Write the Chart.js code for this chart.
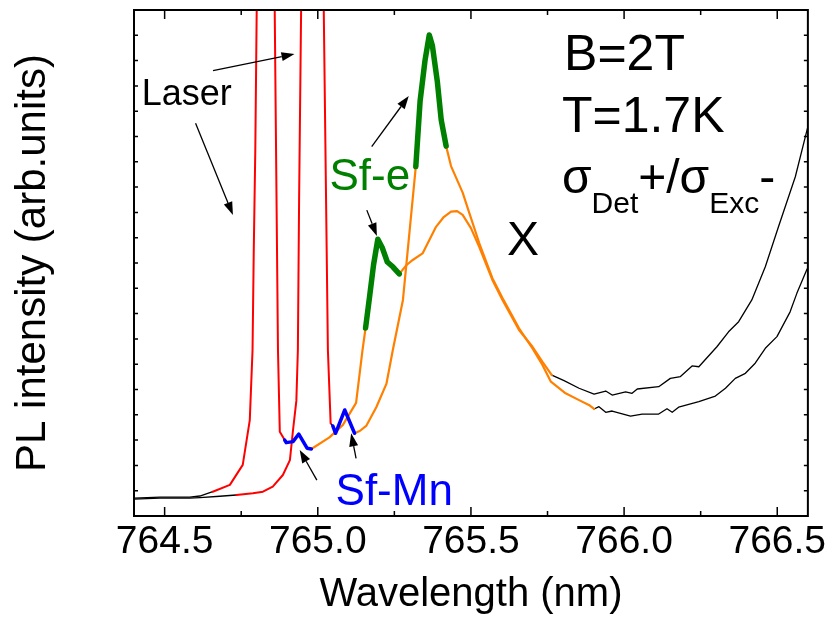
<!DOCTYPE html>
<html>
<head>
<meta charset="utf-8">
<script src="https://cdn.jsdelivr.net/npm/chart.js@4.4.0/dist/chart.umd.min.js"></script>
<style>
  html, body { margin: 0; padding: 0; background: #fff; }
</style>
</head>
<body>
<canvas id="chart" width="830" height="617"></canvas>
<script>
// x axis ticks (nm)
const xTicks = [764.5, 765.0, 765.5, 766.0, 766.5];
const xMinorTicks = [764.75, 765.25, 765.75, 766.25];
const yTicks = [1, 2, 3, 4, 5, 6, 7, 8, 9, 10, 11, 12, 13, 14, 15, 16, 17, 18, 19];

// spectrum 1 (laser at ~764.8 nm, broad X peak)
const wl1 = [764.400, 764.485, 764.582, 764.615, 764.657, 764.713, 764.755, 764.778, 764.787, 764.791,
  764.796, 764.801, 764.830, 764.859, 764.870, 764.876, 764.892, 764.897, 764.919, 764.938,
  764.965, 764.979, 765.038, 765.082, 765.125, 765.146, 765.156, 765.169, 765.182, 765.196,
  765.211, 765.227, 765.245, 765.266, 765.290, 765.310, 765.342, 765.386, 765.410, 765.435,
  765.455, 765.473, 765.500, 765.527, 765.570, 765.603, 765.657, 765.701, 765.733, 765.764,
  765.804, 765.853, 765.902, 765.940, 765.961, 766.005, 766.026, 766.043, 766.113, 766.151,
  766.184, 766.222, 766.244, 766.303, 766.341, 766.374, 766.417, 766.461, 766.504, 766.559,
  766.599, 766.620];
const pl1 = [0.71, 0.75, 0.75, 0.79, 0.96, 1.23, 2.02, 3.79, 6.56, 10.51,
  14.47, 20.5, 60, 20.5, 6.56, 3.33, 3.00, 2.90, 2.94, 3.24,
  2.68, 2.65, 3.11, 3.60, 4.47, 6.56, 7.43, 8.66, 9.92, 10.94,
  10.59, 10.04, 9.85, 9.57, 9.92, 10.12, 10.38, 11.43, 11.80, 12.03,
  12.05, 11.90, 11.38, 10.64, 9.33, 8.54, 7.35, 6.69, 6.10, 5.57,
  5.35, 5.05, 4.82, 4.94, 4.78, 4.91, 4.85, 5.02, 5.11, 5.44,
  5.51, 5.93, 5.90, 6.69, 7.28, 7.68, 8.54, 9.85, 11.43, 13.41,
  15.34, 16.2];

// spectrum 2 (laser at ~764.98 nm, sharp Sf-e peak)
const wl2 = [764.400, 764.485, 764.582, 764.615, 764.680, 764.734, 764.788, 764.821, 764.853, 764.886,
  764.909, 764.919, 764.930, 764.935, 764.939, 764.946, 764.983, 765.019, 765.033, 765.042,
  765.049, 765.058, 765.088, 765.120, 765.137, 765.158, 765.191, 765.224, 765.245, 765.278,
  765.300, 765.320, 765.334, 765.350, 765.364, 765.374, 765.390, 765.403, 765.419, 765.435,
  765.473, 765.494, 765.527, 765.570, 765.603, 765.657, 765.701, 765.733, 765.761, 765.809,
  765.853, 765.885, 765.902, 765.918, 765.940, 765.961, 766.021, 766.059, 766.113, 766.140,
  766.157, 766.178, 766.244, 766.298, 766.331, 766.363, 766.396, 766.428, 766.461, 766.499,
  766.542, 766.564, 766.596, 766.620];
const pl2 = [0.67, 0.71, 0.71, 0.73, 0.78, 0.83, 0.90, 0.96, 1.16, 1.62,
  2.21, 3.38, 4.55, 6.56, 12.5, 20.5, 60, 20.5, 6.56, 3.66,
  3.56, 3.27, 4.19, 3.27, 3.36, 3.56, 4.30, 5.22, 6.56, 8.54,
  11.3, 13.81, 16.40, 18.0, 19.01, 18.6, 17.2, 15.65, 14.62, 13.83,
  12.78, 12.00, 10.79, 9.40, 8.62, 7.42, 6.62, 5.98, 5.31, 4.85,
  4.58, 4.39, 4.23, 4.32, 4.10, 4.15, 3.95, 4.03, 4.03, 4.24,
  4.10, 4.30, 4.52, 4.74, 5.05, 5.44, 5.64, 6.04, 6.63, 7.09,
  8.07, 8.80, 9.72, 10.3];

// colour pieces: [first index, last index, kind]
const pieces1 = [[0, 4, 'base'], [4, 16, 'laser'], [16, 21, 'mn'], [21, 26, 'pl'], [26, 33, 'sfe'], [33, 49, 'pl'], [49, 71, 'base']];
const pieces2 = [[0, 5, 'base'], [5, 19, 'laser'], [19, 20, 'base'], [20, 23, 'mn'], [23, 31, 'pl'], [31, 38, 'sfe'], [38, 52, 'pl'], [52, 73, 'base']];

const styles = {
  base:  { color: '#000000', width: 1.3, order: 2 },
  laser: { color: '#ff0000', width: 2,   order: 1 },
  pl:    { color: '#ff8000', width: 2.2, order: 1 },
  mn:    { color: '#0000ff', width: 3.5, order: 0 },
  sfe:   { color: '#008000', width: 5.5, order: 0 }
};

const FONT = "'Liberation Sans', Arial, sans-serif";

function makePieces(wl, pl, pieces) {
  return pieces.map(([a, b, kind]) => {
    const st = styles[kind];
    const data = [];
    for (let i = a; i <= b; i++) data.push({ x: wl[i], y: pl[i] });
    return {
      data,
      borderColor: st.color,
      borderWidth: st.width,
      order: st.order,
      pointRadius: 0,
      tension: 0,
      fill: false,
      clip: 0,
      borderJoinStyle: 'round',
      borderCapStyle: 'round'
    };
  });
}

// annotations in data units
const notes = [
  { text: 'Laser', x: 764.425, y: 16.25, size: 36, color: '#000' },
  { text: 'Sf-e', x: 765.038, y: 12.89, size: 44, color: '#008000' },
  { text: 'Sf-Mn', x: 765.058, y: 0.43, size: 44, color: '#0000ff' },
  { text: 'B=2T', x: 765.804, y: 17.63, size: 50, color: '#000' },
  { text: 'T=1.7K', x: 765.797, y: 15.18, size: 50, color: '#000' },
  { text: 'X', x: 765.618, y: 10.32, size: 48, color: '#000' }
];
const arrows = [
  [764.658, 17.60, 764.924, 18.26],
  [764.601, 15.52, 764.723, 11.90],
  [765.176, 14.60, 765.297, 16.60],
  [765.160, 12.09, 765.193, 11.07],
  [764.997, 1.42, 764.941, 2.61],
  [765.125, 2.28, 765.109, 3.27]
];

function arrow(ctx, x0, y0, x1, y1) {
  const ang = Math.atan2(y1 - y0, x1 - x0);
  const hl = 13, hw = 4.5;
  const bx = x1 - hl * Math.cos(ang), by = y1 - hl * Math.sin(ang);
  ctx.beginPath();
  ctx.moveTo(x0, y0);
  ctx.lineTo(bx, by);
  ctx.stroke();
  ctx.beginPath();
  ctx.moveTo(x1, y1);
  ctx.lineTo(bx + hw * Math.sin(ang), by - hw * Math.cos(ang));
  ctx.lineTo(bx - hw * Math.sin(ang), by + hw * Math.cos(ang));
  ctx.closePath();
  ctx.fill();
}

const framePlugin = {
  id: 'frame',
  afterDatasetsDraw(chart) {
    const { ctx, chartArea: a, scales: { x, y } } = chart;
    ctx.save();
    ctx.strokeStyle = '#000';
    ctx.fillStyle = '#000';
    ctx.lineWidth = 2;
    ctx.strokeRect(a.left, a.top, a.right - a.left, a.bottom - a.top);
    ctx.lineWidth = 1.5;
    ctx.beginPath();
    xTicks.forEach(v => {
      const px = x.getPixelForValue(v);
      ctx.moveTo(px, a.bottom); ctx.lineTo(px, a.bottom - 9);
      ctx.moveTo(px, a.top); ctx.lineTo(px, a.top + 9);
    });
    xMinorTicks.forEach(v => {
      const px = x.getPixelForValue(v);
      ctx.moveTo(px, a.bottom); ctx.lineTo(px, a.bottom - 5);
      ctx.moveTo(px, a.top); ctx.lineTo(px, a.top + 5);
    });
    yTicks.forEach(v => {
      const py = y.getPixelForValue(v);
      ctx.moveTo(a.left, py); ctx.lineTo(a.left + 4, py);
      ctx.moveTo(a.right, py); ctx.lineTo(a.right - 4, py);
    });
    ctx.stroke();

    // arrows
    ctx.lineWidth = 1.3;
    arrows.forEach(([l0, i0, l1, i1]) => {
      arrow(ctx, x.getPixelForValue(l0), y.getPixelForValue(i0), x.getPixelForValue(l1), y.getPixelForValue(i1));
    });

    // labels
    ctx.textBaseline = 'alphabetic';
    ctx.textAlign = 'left';
    notes.forEach(n => {
      ctx.font = n.size + 'px ' + FONT;
      ctx.fillStyle = n.color;
      ctx.fillText(n.text, x.getPixelForValue(n.x), y.getPixelForValue(n.y));
    });

    // sigma_Det + / sigma_Exc -
    let px = x.getPixelForValue(765.797);
    const base = y.getPixelForValue(12.77);
    ctx.fillStyle = '#000';
    const parts = [['σ', 48, 0], ['Det', 30, 20], ['+/σ', 48, 0], ['Exc', 30, 20], ['-', 48, 0]];
    parts.forEach(([t, s, dy]) => {
      ctx.font = s + 'px ' + FONT;
      ctx.fillText(t, px, base + dy);
      px += ctx.measureText(t).width;
    });
    ctx.restore();
  }
};

new Chart(document.getElementById('chart'), {
  type: 'line',
  data: {
    datasets: [...makePieces(wl1, pl1, pieces1), ...makePieces(wl2, pl2, pieces2)]
  },
  options: {
    responsive: false,
    animation: false,
    devicePixelRatio: 1,
    layout: { padding: { top: 10, right: 21, left: 0, bottom: 0 } },
    plugins: { legend: { display: false }, tooltip: { enabled: false } },
    scales: {
      x: {
        type: 'linear',
        min: 764.4,
        max: 766.6,
        grid: { display: false, drawTicks: false },
        border: { display: false },
        afterBuildTicks: s => { s.ticks = xTicks.map(v => ({ value: v })); },
        afterFit: s => { s.height = 101; },
        ticks: {
          autoSkip: false,
          maxRotation: 0,
          padding: 3,
          color: '#000',
          font: { family: FONT, size: 39 },
          callback: v => v.toFixed(1)
        },
        title: {
          display: true,
          text: 'Wavelength (nm)',
          color: '#000',
          font: { family: FONT, size: 40, lineHeight: 1 },
          padding: { top: 0, bottom: 2 }
        }
      },
      y: {
        min: 0,
        max: 20,
        grid: { display: false, drawTicks: false },
        border: { display: false },
        ticks: { display: false },
        afterFit: s => { s.width = 134; },
        title: {
          display: true,
          text: 'PL intensity (arb.units)',
          color: '#000',
          font: { family: FONT, size: 42, lineHeight: 1.2 },
          padding: { top: 8, bottom: 0 }
        }
      }
    }
  },
  plugins: [framePlugin]
});
</script>
</body>
</html>
